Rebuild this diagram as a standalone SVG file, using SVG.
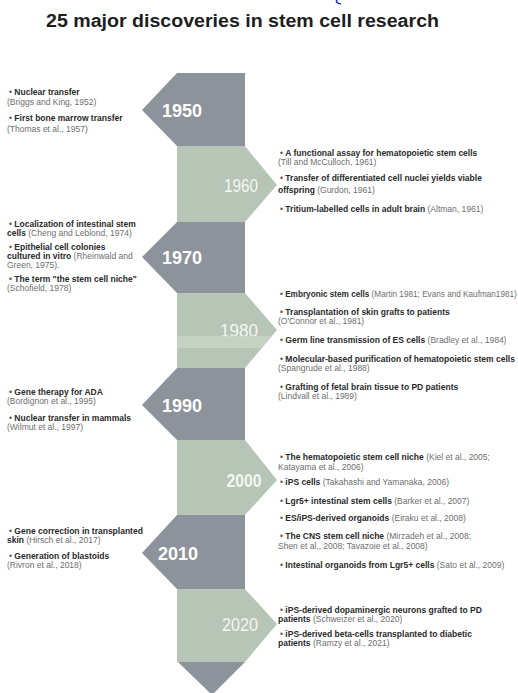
<svg xmlns="http://www.w3.org/2000/svg" width="518" height="693" viewBox="0 0 518 693">
  <style>
    .title { font-family: "Liberation Sans", Arial, sans-serif; font-weight: bold; font-size: 18px; fill: #1e1e1e; }
    .dec { fill: #8d939b; }
    .alt { fill: #b7c5b6; }
    .yr { font-family: "Liberation Sans", Arial, sans-serif; font-size: 18px; fill: #ffffff; text-anchor: middle; }
    .yb { font-weight: bold; }
    .yl { fill: #f4f6f2; }
    .t { font-family: "Liberation Sans", Arial, sans-serif; font-size: 8.5px; fill: #6e6e6e; }
    .t .tight { font-size: 8.2px; }
    .b { font-weight: bold; fill: #2a2a2a; }
    .dot { fill: #555555; }
  </style>

  <rect width="518" height="693" fill="#ffffff"/>

  <!-- stray mark at the top edge -->
  <path d="M337,0 Q335,3 341,4" fill="none" stroke="#1f2fd8" stroke-width="1.6"/>

  <text class="title" x="46" y="27" textLength="393" lengthAdjust="spacingAndGlyphs">25 major discoveries in stem cell research</text>

  <!-- timeline spine: alternating decade blocks -->
  <g id="decade-1950">
    <polygon class="dec" points="177,73 245,73 245,146 177,146 142,110"/>
    <text class="yr yb" x="182" y="117">1950</text>
  </g>
  <g id="decade-1960">
    <polygon class="alt" points="177,146 245,146 277,185 245,222 177,222"/>
    <text class="yr yl" x="241" y="192" textLength="34" lengthAdjust="spacingAndGlyphs">1960</text>
  </g>
  <g id="decade-1970">
    <polygon class="dec" points="177,222 245,222 245,293 177,293 142,257"/>
    <text class="yr yb" x="182" y="264">1970</text>
  </g>
  <g id="decade-1980">
    <polygon class="alt" points="177,293 245,293 277,330 245,368 177,368"/>
    <text class="yr yl" x="239" y="337" textLength="38" lengthAdjust="spacingAndGlyphs">1980</text>
    <polygon points="177,336 272,336 262,348 177,348" fill="#c9d5c7" opacity="0.85"/>
  </g>
  <g id="decade-1990">
    <polygon class="dec" points="177,368 245,368 245,440 177,440 142,405"/>
    <text class="yr yb" x="182" y="412">1990</text>
  </g>
  <g id="decade-2000">
    <polygon class="alt" points="177,440 245,440 277,480 245,515 177,515"/>
    <text class="yr yb yl" x="244" y="487" textLength="35" lengthAdjust="spacingAndGlyphs">2000</text>
  </g>
  <g id="decade-2010">
    <polygon class="dec" points="177,515 245,515 245,589 177,589 142,553"/>
    <text class="yr yb" x="178" y="560">2010</text>
  </g>
  <g id="decade-2020">
    <polygon class="alt" points="177,589 245,589 277,624 245,662 177,662"/>
    <text class="yr yl" x="240" y="631" textLength="36" lengthAdjust="spacingAndGlyphs">2020</text>
  </g>
  <g id="timeline-end">
    <polygon class="dec" points="178,662 245,662 212,695"/>
  </g>

  <!-- discovery lists -->
  <g id="notes-1950" class="t">
    <text x="9" y="95"><tspan class="dot">•</tspan> <tspan class="b">Nuclear transfer</tspan></text>
    <text x="7" y="105">(Briggs and King, 1952)</text>
    <text x="9" y="121"><tspan class="dot">•</tspan> <tspan class="b">First bone marrow transfer</tspan></text>
    <text x="7" y="132">(Thomas et al., 1957)</text>
  </g>

  <g id="notes-1960" class="t">
    <text x="280" y="156"><tspan class="dot">•</tspan> <tspan class="b">A functional assay for hematopoietic stem cells</tspan></text>
    <text x="278" y="165">(Till and McCulloch, 1961)</text>
    <text x="280" y="181"><tspan class="dot">•</tspan> <tspan class="b">Transfer of differentiated cell nuclei yields viable</tspan></text>
    <text x="278" y="193"><tspan class="b">offspring</tspan> (Gurdon, 1961)</text>
    <text x="280" y="212"><tspan class="dot">•</tspan> <tspan class="b">Tritium-labelled cells in adult brain</tspan> (Altman, 1961)</text>
  </g>

  <g id="notes-1970" class="t">
    <text x="9" y="227"><tspan class="dot">•</tspan> <tspan class="b">Localization of intestinal stem</tspan></text>
    <text x="7" y="236"><tspan class="b">cells</tspan> (Cheng and Leblond, 1974)</text>
    <text x="9" y="250"><tspan class="dot">•</tspan> <tspan class="b">Epithelial cell colonies</tspan></text>
    <text x="7" y="259"><tspan class="b">cultured in vitro</tspan> (Rheinwald and</text>
    <text x="7" y="268">Green, 1975).</text>
    <text x="9" y="282"><tspan class="dot">•</tspan> <tspan class="b">The term "the stem cell niche"</tspan></text>
    <text x="7" y="291">(Schofield, 1978)</text>
  </g>

  <g id="notes-1980" class="t">
    <text class="tight" x="280" y="297"><tspan class="dot">•</tspan> <tspan class="b">Embryonic stem cells</tspan> (Martin 1981; Evans and Kaufman1981)</text>
    <text x="280" y="315"><tspan class="dot">•</tspan> <tspan class="b">Transplantation of skin grafts to patients</tspan></text>
    <text x="278" y="324">(O'Connor et al., 1981)</text>
    <text x="280" y="343"><tspan class="dot">•</tspan> <tspan class="b">Germ line transmission of ES cells</tspan> (Bradley et al., 1984)</text>
    <text x="280" y="362"><tspan class="dot">•</tspan> <tspan class="b">Molecular-based purification of hematopoietic stem cells</tspan></text>
    <text x="278" y="371">(Spangrude et al., 1988)</text>
    <text x="280" y="390"><tspan class="dot">•</tspan> <tspan class="b">Grafting of fetal brain tissue to PD patients</tspan></text>
    <text x="278" y="399">(Lindvall et al., 1989)</text>
  </g>

  <g id="notes-1990" class="t">
    <text x="9" y="395"><tspan class="dot">•</tspan> <tspan class="b">Gene therapy for ADA</tspan></text>
    <text x="7" y="404">(Bordignon et al., 1995)</text>
    <text x="9" y="421"><tspan class="dot">•</tspan> <tspan class="b">Nuclear transfer in mammals</tspan></text>
    <text x="7" y="430">(Wilmut et al., 1997)</text>
  </g>

  <g id="notes-2000" class="t">
    <text x="280" y="460"><tspan class="dot">•</tspan> <tspan class="b">The hematopoietic stem cell niche</tspan> (Kiel et al., 2005;</text>
    <text x="278" y="470">Katayama et al., 2006)</text>
    <text x="280" y="485"><tspan class="dot">•</tspan> <tspan class="b">iPS cells</tspan> (Takahashi and Yamanaka, 2006)</text>
    <text x="280" y="504"><tspan class="dot">•</tspan> <tspan class="b">Lgr5+ intestinal stem cells</tspan> (Barker et al., 2007)</text>
    <text x="280" y="521"><tspan class="dot">•</tspan> <tspan class="b">ES/iPS-derived organoids</tspan> (Eiraku et al., 2008)</text>
    <text x="280" y="539"><tspan class="dot">•</tspan> <tspan class="b">The CNS stem cell niche</tspan> (Mirzadeh et al., 2008;</text>
    <text x="278" y="549">Shen et al., 2008; Tavazoie et al., 2008)</text>
    <text x="280" y="568"><tspan class="dot">•</tspan> <tspan class="b">Intestinal organoids from Lgr5+ cells</tspan> (Sato et al., 2009)</text>
  </g>

  <g id="notes-2010" class="t">
    <text x="9" y="534"><tspan class="dot">•</tspan> <tspan class="b">Gene correction in transplanted</tspan></text>
    <text x="7" y="543"><tspan class="b">skin</tspan> (Hirsch et al., 2017)</text>
    <text x="9" y="559"><tspan class="dot">•</tspan> <tspan class="b">Generation of blastoids</tspan></text>
    <text x="7" y="568">(Rivron et al., 2018)</text>
  </g>

  <g id="notes-2020" class="t">
    <text x="280" y="613"><tspan class="dot">•</tspan> <tspan class="b">iPS-derived dopaminergic neurons grafted to PD</tspan></text>
    <text x="278" y="622"><tspan class="b">patients</tspan> (Schweizer et al., 2020)</text>
    <text x="280" y="637"><tspan class="dot">•</tspan> <tspan class="b">iPS-derived beta-cells transplanted to diabetic</tspan></text>
    <text x="278" y="646"><tspan class="b">patients</tspan> (Ramzy et al., 2021)</text>
  </g>
</svg>
